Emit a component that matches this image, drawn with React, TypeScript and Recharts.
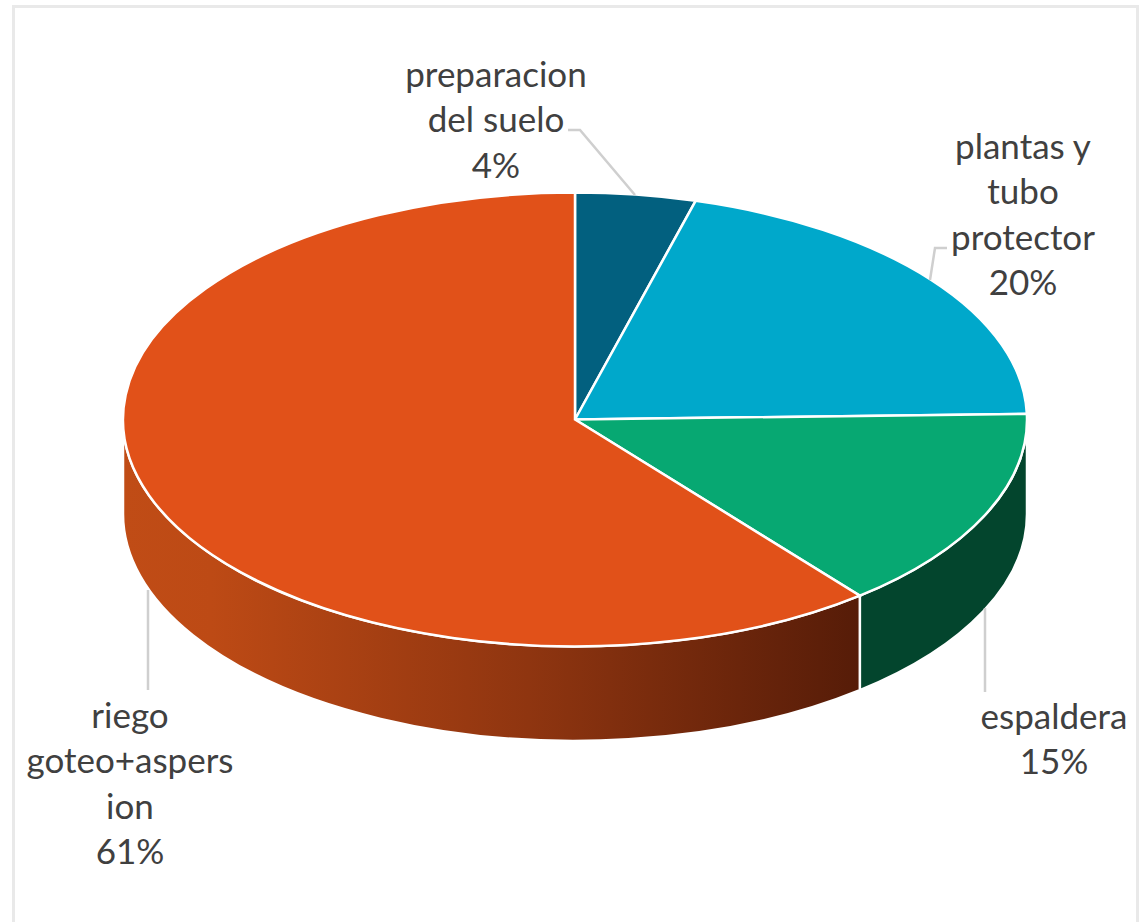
import { PieChart, Pie, Cell } from "recharts";

const categories = ["preparacion del suelo", "plantas y tubo protector", "espaldera", "riego goteo+aspersion"];
const values = [4.3, 20.3, 14.55, 60.85];

const topColors = ["#02607f", "#00a8cb", "#07a872", "#e15119"];
const sideColors = ["#013a4d", "#006579", "#03452d", "url(#riegoSide)"];

// wrapped the same way as the reference labels
const labelLines = [
  ["preparacion", "del suelo"],
  ["plantas y", "tubo", "protector"],
  ["espaldera"],
  ["riego", "goteo+aspers", "ion"],
];
const labelAnchors = [
  { x: 496, y: 87 },
  { x: 1023, y: 159 },
  { x: 1054, y: 729 },
  { x: 130, y: 728 },
];
const leaderLines = [
  "568,130 580,130 635,195",
  "947,248 935,248 930,280",
  "985,608 985,692",
  "148,590 148,690",
];

const chartData = categories.map((name, i) => ({ name, value: values[i] }));

const TILT = 0.502;
const DEPTH = 94.5;
const LINE_HEIGHT = 45.3;

function point(cx: number, cy: number, r: number, deg: number, drop = 0) {
  const rad = (deg * Math.PI) / 180;
  return [cx + r * Math.cos(rad), cy - r * TILT * Math.sin(rad) + drop];
}

// flattened pie sector with its visible outer wall
function TiltedSector(props: any) {
  const { cx, cy, outerRadius: r, startAngle, endAngle, index } = props;
  const ry = r * TILT;
  const [x1, y1] = point(cx, cy, r, startAngle);
  const [x2, y2] = point(cx, cy, r, endAngle);
  const large = Math.abs(startAngle - endAngle) > 180 ? 1 : 0;

  const wallFrom = Math.min(startAngle, 0);
  const wallTo = Math.max(endAngle, -180);
  let wall = null;
  if (wallFrom > wallTo) {
    const [a1, b1] = point(cx, cy, r, wallFrom);
    const [a2, b2] = point(cx, cy, r, wallTo);
    wall = (
      <path
        d={`M${a1},${b1} A${r},${ry} 0 0 1 ${a2},${b2} L${a2},${b2 + DEPTH} A${r},${ry} 0 0 0 ${a1},${b1 + DEPTH} Z`}
        fill={sideColors[index]}
        stroke="#fff"
        strokeWidth={2.5}
      />
    );
  }

  return (
    <g>
      <defs>
        <linearGradient id="riegoSide" x1="0" y1="0" x2="1" y2="0">
          <stop offset="0" stopColor="#c04c16" />
          <stop offset="0.12" stopColor="#bd4a15" />
          <stop offset="0.55" stopColor="#8f3510" />
          <stop offset="1" stopColor="#561c08" />
        </linearGradient>
      </defs>
      {wall}
      <path
        d={`M${cx},${cy} L${x1},${y1} A${r},${ry} 0 ${large} 1 ${x2},${y2} Z`}
        fill={topColors[index]}
        stroke="#fff"
        strokeWidth={2.5}
      />
    </g>
  );
}

function renderLabel(props: any) {
  const { index, percent } = props;
  const anchor = labelAnchors[index];
  const lines = [...labelLines[index], `${(percent * 100).toFixed(0)}%`];
  return (
    <g key={index}>
      <polyline points={leaderLines[index]} fill="none" stroke="#cfcfcf" strokeWidth={2.5} />
      <text
        x={anchor.x}
        y={anchor.y}
        textAnchor="middle"
        fontFamily="Lato, 'Open Sans', sans-serif"
        fontSize={35}
        fill="#404040"
      >
        {lines.map((line, i) => (
          <tspan key={line} x={anchor.x} dy={i === 0 ? 0 : LINE_HEIGHT}>
            {line}
          </tspan>
        ))}
      </text>
    </g>
  );
}

export default function App() {
  return (
    <div
      style={{
        position: "absolute",
        left: 0,
        top: 0,
        width: 1140,
        height: 922,
        overflow: "hidden",
        background: "#fff",
      }}
    >
      <div
        style={{
          position: "absolute",
          left: 12,
          top: 5,
          width: 1121,
          height: 1000,
          border: "3px solid #e9e9e9",
        }}
      />
      <div style={{ position: "absolute", left: 0, top: 0 }}>
        <PieChart width={1140} height={922} margin={{ top: 0, right: 0, bottom: 0, left: 0 }}>
          <Pie
            data={chartData}
            dataKey="value"
            nameKey="name"
            cx={575}
            cy={419.5}
            outerRadius={452}
            startAngle={90}
            endAngle={-270}
            paddingAngle={0}
            stroke="#fff"
            shape={TiltedSector}
            label={renderLabel}
            labelLine={false}
            isAnimationActive={false}
          >
            {chartData.map((d, i) => (
              <Cell key={d.name} fill={topColors[i]} />
            ))}
          </Pie>
        </PieChart>
      </div>
    </div>
  );
}
